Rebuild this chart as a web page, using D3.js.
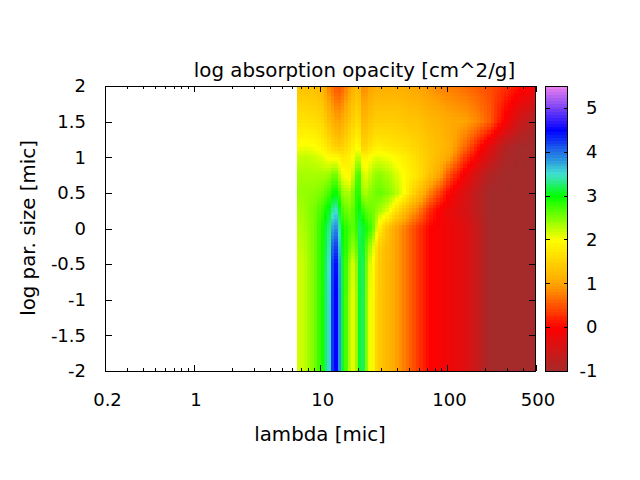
<!DOCTYPE html>
<html><head><meta charset="utf-8">
<script src="https://cdn.jsdelivr.net/npm/d3@7"></script>
<style>html,body{margin:0;background:#fff}svg{display:block}text{font-family:"DejaVu Sans";font-size:19.8px;fill:#000}</style>
</head><body><div id="c"></div>
<script>
const lambda=[6.54,7.57,9.08,10.5,11.9,12.8,13.55,14.3,15.1,17.2,18.8,19.9,21.3,22.1,23.8,26.1,27,29.6,33.6,38.9,45,51,59,73.6,88,106,139,172,219,286,375,500];
const logSize=[-2,-1,-0.5,-0.25,0,0.25,0.5,0.75,1,1.15,1.5,2];
const rowM200=[2.15,2.25,2.55,2.95,3.6,4.55,4.5,3.7,3.1,2.25,2.0,2.9,3.4,3.1,2.15,1.95,1.65,1.4,1.2,1.05,.8,.6,.35,0,-.08,-.18,-.35,-.6,-1,-1,-1,-1];
const rowM100=[2.15,2.25,2.55,2.95,3.6,4.55,4.5,3.7,3.1,2.25,2.0,2.9,3.4,3.1,2.15,1.95,1.65,1.4,1.2,1.05,.8,.6,.35,0,-.08,-.18,-.35,-.6,-1,-1,-1,-1];
const rowM050=[2.15,2.25,2.55,2.95,3.55,4.5,4.4,3.65,3.1,2.35,2.05,2.95,3.4,3.1,2.25,2.0,1.7,1.4,1.2,1.05,.8,.6,.35,0,-.08,-.18,-.35,-.6,-1,-1,-1,-1];
const rowM025=[2.2,2.3,2.55,2.95,3.45,4.3,4.15,3.5,3.05,2.6,2.35,3.0,3.4,3.0,2.5,2.2,1.85,1.45,1.25,1.05,.8,.6,.35,0,-.08,-.18,-.35,-.6,-1,-1,-1,-1];
const rowP000=[2.25,2.35,2.55,2.95,3.35,3.95,3.85,3.35,2.95,2.7,2.6,3.1,3.4,3.0,2.9,2.6,2.4,1.8,1.35,1.05,.8,.6,.35,.0,-.08,-.18,-.35,-.6,-1,-1,-1,-1];
const rowP025=[2.3,2.4,2.55,2.8,3.1,3.5,3.45,3.05,2.7,2.5,2.7,3.1,3.0,2.7,2.6,2.55,2.5,2.35,2.15,1.75,1.35,1.05,.8,.25,-.05,-.25,-.45,-.7,-1,-1,-1,-1];
const rowP050=[2.4,2.42,2.45,2.55,2.75,3.0,2.95,2.7,2.4,2.3,2.65,3.05,2.6,2.25,2.4,2.5,2.55,2.6,2.5,2.35,2.05,1.7,1.35,.8,.4,-.02,-.4,-.7,-1,-1,-1,-1];
const rowP075=[2.35,2.35,2.35,2.35,2.4,2.6,2.5,2.25,2.05,1.9,2.4,2.95,2.45,2.05,2.15,2.35,2.4,2.45,2.35,2.2,2.0,1.85,1.7,1.3,1.0,.45,-.1,-.5,-.85,-1,-1,-1];
const rowP100=[2.2,2.25,2.2,2.1,1.95,1.95,1.95,1.85,1.75,1.85,2.1,2.35,2.1,1.75,1.95,2.05,2.1,2.1,2.05,1.95,1.85,1.75,1.6,1.4,1.2,1.0,.35,-.05,-.5,-.9,-1,-1];
const rowP115=[2.0,2.05,2.0,1.85,1.65,1.5,1.45,1.4,1.5,1.7,1.9,2.05,1.7,1.4,1.6,1.75,1.8,1.8,1.75,1.7,1.65,1.6,1.5,1.35,1.25,1.1,.65,.2,-.3,-.8,-1,-1];
const rowP150=[1.7,1.7,1.65,1.55,1.25,1.1,1.0,1.0,1.1,1.4,1.55,1.65,1.4,1.15,1.3,1.4,1.45,1.45,1.45,1.45,1.4,1.35,1.35,1.2,1.15,1.05,1.0,.85,.55,-.05,-.55,-.9];
const rowP200=[1.35,1.3,1.3,1.15,.75,.6,.5,.5,.6,.95,1.25,1.25,1.1,.7,.95,1.05,1.1,1.1,1.1,1.1,1.1,1.05,1.0,.9,.8,.75,.65,.55,.45,.3,.1,-.1];
const rows=[rowM200,rowM100,rowM050,rowM025,rowP000,rowP025,rowP050,rowP075,rowP100,rowP115,rowP150,rowP200];
const xMajor=[0.2,1,10,100,500], xMajorLabels=["0.2","1","10","100","500"];
const xMinor=[.3,.4,.5,.6,.7,.8,.9,2,3,4,5,6,7,8,9,20,30,40,50,60,70,80,90,200,300,400];
const yTicks=[-2,-1.5,-1,-.5,0,.5,1,1.5,2];
const cbTicks=[-1,0,1,2,3,4,5];
const paletteValues=[-1,0,1,2,3,3.5,4.5,5.5];
const paletteColors=["brown","red","orange","yellow","#00ff00","turquoise","blue","violet"];

const svg=d3.select("#c").append("svg").attr("width",640).attr("height",480);
const L=105,R=535.5,T=86,B=371;
const x=d3.scaleLog().domain([0.2,500]).range([L,R]);
const y=d3.scaleLinear().domain([-2,2]).range([B,T]);
const color=d3.scaleLinear().domain(paletteValues).range(paletteColors).interpolate(d3.interpolateRgb);
const rowFns=rows.map(r=>d3.scaleLinear().domain(lambda.map(Math.log10)).range(r).clamp(true));
const cw=3.4,ch=3.4;
const cols=d3.range(x(lambda[0]),R,cw), rws=d3.range(T,B,ch);
const cells=[];
cols.forEach(px=>{
  const ll=Math.log10(x.invert(px+cw/2));
  const cv=rowFns.map(f=>f(ll));
  const sf=d3.scaleLinear().domain(logSize).range(cv);
  rws.forEach(py=>cells.push({px,py,v:sf(y.invert(py+ch/2))}));
});
svg.append("g").attr("shape-rendering","crispEdges").selectAll("rect").data(cells).join("rect")
 .attr("x",d=>d.px).attr("y",d=>d.py).attr("width",d=>Math.min(cw+.6,R-d.px)).attr("height",d=>Math.min(ch+.6,B-d.py)).attr("fill",d=>color(d.v));

// colour box
const cbL=545.5,cbR=567.5;
const cb=d3.scaleLinear().domain([-1,5.5]).range([B,T]);
const cbLevels=d3.range(-1,5.5,6.5/100);
svg.append("g").attr("shape-rendering","crispEdges").selectAll("rect").data(cbLevels).join("rect")
 .attr("x",cbL).attr("width",cbR-cbL).attr("y",d=>cb(d+6.5/100)).attr("height",d=>cb(d)-cb(d+6.5/100)+.6).attr("fill",d=>color(d+3.25/100));

function styleAxis(g){g.attr("shape-rendering","crispEdges");g.select(".domain").remove();g.selectAll("line").attr("stroke","#000");g.selectAll("text").style("font-family","DejaVu Sans").style("font-size","18px").attr("fill","#000");}
const fmtX=d=>xMajorLabels[xMajor.indexOf(d)];
svg.append("g").attr("transform",`translate(0,${B})`).call(d3.axisBottom(x).tickValues(xMajor).tickFormat(fmtX).tickSize(-6).tickPadding(22)).call(styleAxis)
  .selectAll("text").attr("dx",2);
svg.append("g").attr("transform",`translate(0,${B})`).call(d3.axisBottom(x).tickValues(xMinor).tickFormat("").tickSize(-3)).call(styleAxis);
svg.append("g").attr("transform",`translate(0,${T})`).call(d3.axisTop(x).tickValues(xMajor).tickFormat("").tickSize(-6)).call(styleAxis);
svg.append("g").attr("transform",`translate(0,${T})`).call(d3.axisTop(x).tickValues(xMinor).tickFormat("").tickSize(-3)).call(styleAxis);
svg.append("g").attr("transform",`translate(${L},0)`).call(d3.axisLeft(y).tickValues(yTicks).tickFormat(d=>String(d)).tickSize(-7).tickPadding(19)).call(styleAxis);
svg.append("g").attr("transform",`translate(${R},0)`).call(d3.axisRight(y).tickValues(yTicks).tickFormat("").tickSize(-7)).call(styleAxis);
svg.append("g").attr("transform",`translate(${cbR},0)`).call(d3.axisRight(cb).tickValues(cbTicks).tickFormat(d=>String(d)).tickSize(-4).tickPadding(30)).call(styleAxis)
  .selectAll("text").attr("text-anchor","end");
svg.append("g").attr("transform",`translate(${cbL},0)`).call(d3.axisLeft(cb).tickValues(cbTicks).tickFormat("").tickSize(-4)).call(styleAxis);

const box=(a,b)=>svg.append("rect").attr("x",a).attr("y",T).attr("width",b-a).attr("height",B-T).attr("fill","none").attr("stroke","#000").attr("shape-rendering","crispEdges");
box(L,R);box(cbL,cbR);

svg.append("text").attr("x",354.5).attr("y",76.5).attr("text-anchor","middle").text("log absorption opacity [cm^2/g]");
svg.append("text").attr("x",320).attr("y",440.5).attr("text-anchor","middle").text("lambda [mic]");
svg.append("text").attr("transform","translate(35,228) rotate(-90)").attr("text-anchor","middle").text("log par. size [mic]");
</script></body></html>
